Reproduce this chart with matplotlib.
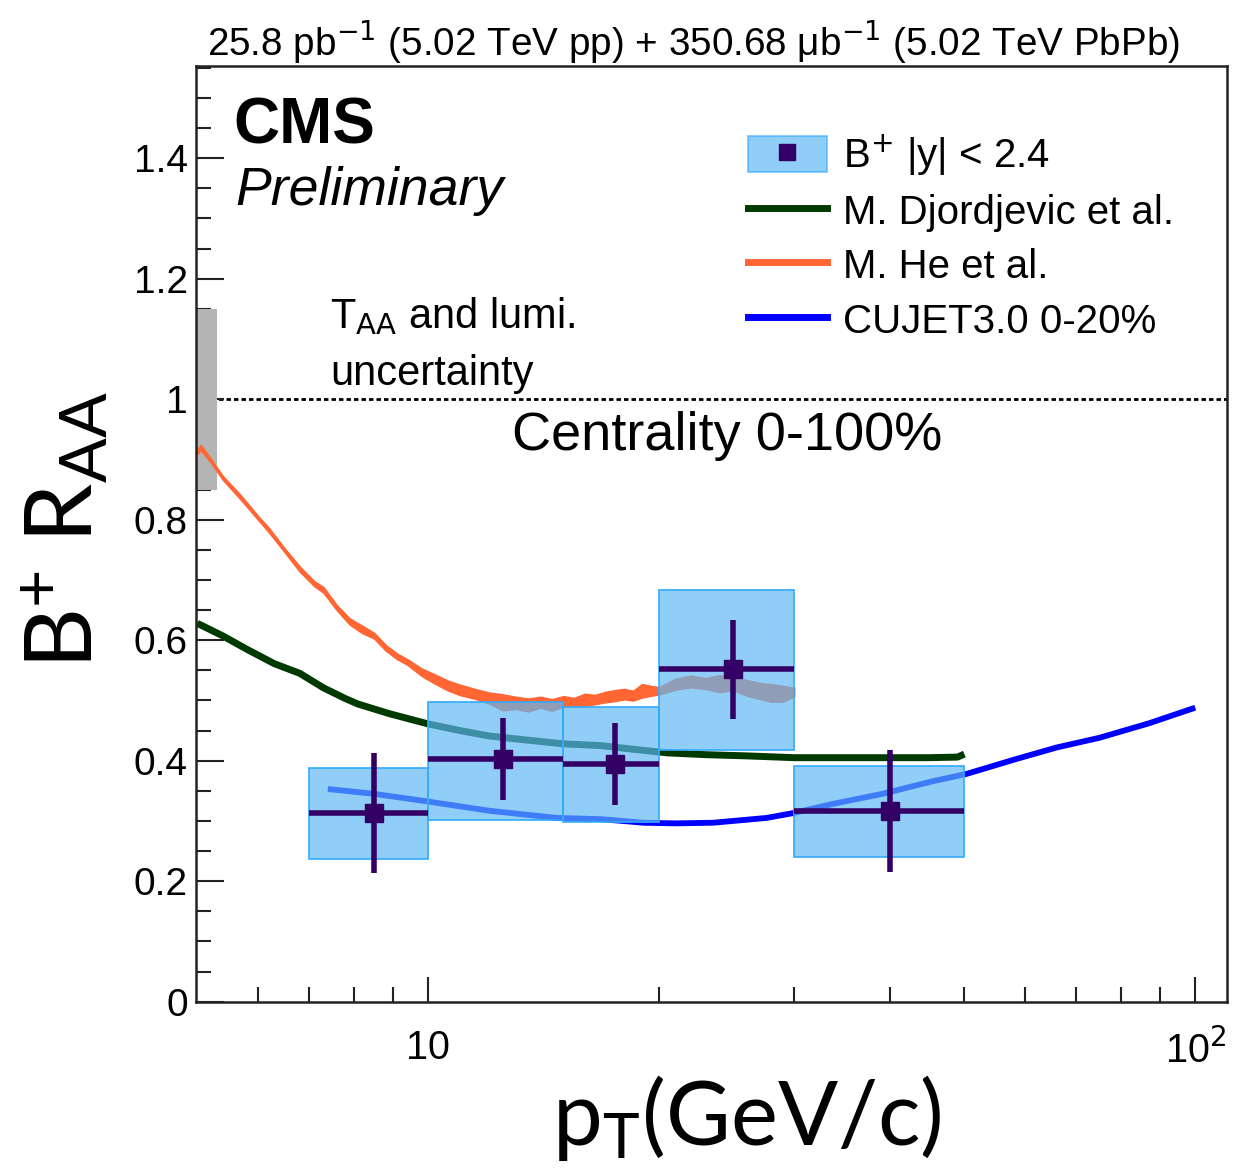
import matplotlib
matplotlib.use("Agg")
import matplotlib.pyplot as plt
from matplotlib.patches import Patch, Rectangle
from matplotlib.lines import Line2D
from matplotlib.legend_handler import HandlerTuple
from matplotlib.ticker import MultipleLocator, FixedLocator, NullFormatter, FuncFormatter

# ---- data ----
pt_lo = [7, 10, 15, 20, 30]
pt_hi = [10, 15, 20, 30, 50]
pt_center = [8.5, 12.5, 17.5, 25, 40]
raa = [0.313, 0.403, 0.395, 0.552, 0.317]
stat_err = [0.100, 0.068, 0.068, 0.082, 0.101]
syst_lo = [0.237, 0.302, 0.298, 0.418, 0.240]
syst_hi = [0.388, 0.498, 0.489, 0.683, 0.391]

# M. Djordjevic et al.
dj_pt = [5.0, 5.4, 5.8, 6.3, 6.8, 7.3, 7.8, 8.1, 8.9, 10.0, 11.0, 12.0, 13.5, 15.0,
         16.8, 18.5, 20.5, 23.0, 26.0, 30.0, 35.0, 40.0, 45.0, 49.0, 50.0]
dj_raa = [0.628, 0.607, 0.585, 0.561, 0.545, 0.521, 0.503, 0.494, 0.478, 0.461, 0.450,
          0.441, 0.434, 0.428, 0.425, 0.419, 0.413, 0.410, 0.408, 0.405, 0.405, 0.405,
          0.405, 0.406, 0.411]

# M. He et al. (noisy band)
he_pt = [5.0, 5.05, 5.2, 5.4, 5.7, 6.0, 6.2, 6.5, 6.8, 7.1, 7.3, 7.6, 7.9, 8.2, 8.5,
         8.8, 9.1, 9.4, 9.8, 10.2, 10.6, 11.0, 11.5, 12.0, 12.5, 13.0, 13.5, 14.0, 14.5,
         15.0, 15.5, 16.0, 16.5, 17.0, 17.5, 18.0, 18.5, 19.0, 19.5, 20.0, 21.0, 22.0,
         23.0, 24.0, 25.0, 26.0, 27.0, 28.0, 29.0, 30.0]
he_hi = [0.915, 0.924, 0.902, 0.872, 0.840, 0.806, 0.786, 0.752, 0.722, 0.698, 0.688,
         0.658, 0.636, 0.624, 0.612, 0.592, 0.578, 0.568, 0.553, 0.543, 0.533, 0.526,
         0.519, 0.513, 0.510, 0.506, 0.503, 0.506, 0.502, 0.507, 0.504, 0.511, 0.509,
         0.514, 0.517, 0.519, 0.516, 0.527, 0.524, 0.522, 0.536, 0.541, 0.537, 0.542,
         0.539, 0.534, 0.529, 0.527, 0.524, 0.521]
he_lo = [0.909, 0.916, 0.896, 0.866, 0.833, 0.800, 0.779, 0.746, 0.714, 0.690, 0.679,
         0.650, 0.626, 0.612, 0.603, 0.583, 0.569, 0.559, 0.541, 0.528, 0.517, 0.509,
         0.503, 0.495, 0.484, 0.486, 0.482, 0.488, 0.483, 0.490, 0.492, 0.491, 0.494,
         0.497, 0.499, 0.502, 0.500, 0.505, 0.508, 0.510, 0.518, 0.522, 0.519, 0.514,
         0.517, 0.508, 0.503, 0.498, 0.498, 0.507]

# CUJET3.0 0-20%
cu_pt = [7.4, 8.5, 9.9, 12.0, 14.7, 16.8, 19.1, 21.0, 23.5, 27.6, 29.9, 33.6, 39.1,
         45.5, 50.3, 58.5, 66.0, 75.0, 87.0, 100.0]
cu_raa = [0.353, 0.345, 0.333, 0.317, 0.305, 0.303, 0.297, 0.296, 0.297, 0.305, 0.313,
          0.328, 0.345, 0.366, 0.378, 0.403, 0.422, 0.438, 0.462, 0.488]

# normalisation uncertainty (T_AA and lumi.)
norm_unc = 0.15
norm_box_pt = [5.0, 5.31]

W, H = 1244, 1168

plt.rcParams["font.family"] = ["Liberation Sans", "DejaVu Sans"]
plt.rcParams["mathtext.fontset"] = "custom"
plt.rcParams["mathtext.rm"] = "Lato"
plt.rcParams["mathtext.it"] = "Lato:italic"
plt.rcParams["mathtext.bf"] = "Lato:bold"

fig = plt.figure(figsize=(W / 100, H / 100), dpi=100)
ax = fig.add_axes([196 / W, 1 - 1001.7 / H, (1227 - 196) / W, (1001.7 - 65.7) / H])

box_face = "#5cb8f5"
box_edge = "#33aaff"
box_alpha = 0.68
marker_col = "#330066"
dj_col = "#003a00"
he_col = "#ff6633"
cu_col = "#0000ff"

# reference line and normalisation box
ax.axhline(1.0, color="black", lw=2.0, linestyle=(0, (1.6, 1.1)), zorder=1)
ax.add_patch(Rectangle((norm_box_pt[0], 1 - norm_unc), norm_box_pt[1] - norm_box_pt[0],
                       2 * norm_unc, facecolor="#b4b4b4", edgecolor="none", zorder=2))

# theory curves (under the boxes)
ax.fill_between(he_pt, he_lo, he_hi, color=he_col, lw=1.2, edgecolor=he_col, zorder=2)
ax.plot(dj_pt, dj_raa, color=dj_col, lw=5, solid_capstyle="butt", zorder=2)
ax.plot(cu_pt, cu_raa, color=cu_col, lw=4.2, solid_capstyle="butt", zorder=2)

# systematic boxes
for lo, hi, ylo, yhi in zip(pt_lo, pt_hi, syst_lo, syst_hi):
    ax.add_patch(Rectangle((lo, ylo), hi - lo, yhi - ylo, facecolor=box_face, alpha=box_alpha,
                           edgecolor="none", zorder=3))
    ax.add_patch(Rectangle((lo, ylo), hi - lo, yhi - ylo, facecolor="none",
                           edgecolor=box_edge, lw=1.2, zorder=3))

# data points
xerr = [[c - lo for c, lo in zip(pt_center, pt_lo)], [hi - c for c, hi in zip(pt_center, pt_hi)]]
ax.errorbar(pt_center, raa, xerr=xerr, yerr=stat_err, fmt="s", ms=13, color=marker_col,
            elinewidth=4, capsize=0, zorder=5)

ax.set_xscale("log")
ax.set_xlim(4.98, 110)
ax.set_ylim(0, 1.5535)

ax.xaxis.set_major_locator(FixedLocator([10, 100]))
ax.xaxis.set_minor_locator(FixedLocator([6, 7, 8, 9, 20, 30, 40, 50, 60, 70, 80, 90]))
ax.xaxis.set_minor_formatter(NullFormatter())
ax.set_xticklabels(["10", "10$^{2}$"])
ax.yaxis.set_major_locator(MultipleLocator(0.2))
ax.yaxis.set_minor_locator(MultipleLocator(0.05))
ax.yaxis.set_major_formatter(FuncFormatter(lambda v, p: f"{v:g}"))

ax.tick_params(axis="both", which="both", direction="in", top=False, right=False,
               width=1.5, color="#222222")
ax.tick_params(axis="x", which="major", length=18, pad=20, labelsize=28.5)
ax.tick_params(axis="x", which="minor", length=11)
ax.tick_params(axis="y", which="major", length=20, pad=6, labelsize=28)
ax.tick_params(axis="y", which="minor", length=11)
for lab in ax.get_xticklabels():
    lab.set_math_fontfamily("dejavusans")
for s in ax.spines.values():
    s.set_linewidth(1.8)
    s.set_color("#222222")

# legend
h_data = (Patch(facecolor=box_face, alpha=box_alpha, edgecolor=box_edge, lw=1.2),
          Line2D([], [], marker="s", ls="none", ms=11, color=marker_col))
handles = [h_data,
           Line2D([], [], color=dj_col, lw=5),
           Line2D([], [], color=he_col, lw=5),
           Line2D([], [], color=cu_col, lw=5)]
labels = ["B$^{+}$ |y| < 2.4", "M. Djordjevic et al.", "M. He et al.", "CUJET3.0 0-20%"]
leg = ax.legend(handles, labels, loc="upper left", bbox_to_anchor=(0.535, 0.929),
                frameon=False, fontsize=29, borderpad=0, borderaxespad=0,
                handlelength=1.97, handleheight=1.0, handletextpad=0.4, labelspacing=0.36,
                handler_map={tuple: HandlerTuple(ndivide=1)})
for t in leg.get_texts():
    t.set_math_fontfamily("dejavusans")

# texts
def fx(px):
    return px / W


def fy(py):
    return 1 - py / H


fig.text(fx(207), fy(55), "25.8 pb$^{-1}$ (5.02 TeV pp) + 350.68 \u03bcb$^{-1}$ (5.02 TeV PbPb)",
         fontsize=27.8, va="baseline", ha="left", math_fontfamily="dejavusans")
fig.text(fx(233), fy(143), "CMS", fontsize=46, fontweight="bold", va="baseline")
fig.text(fx(235), fy(205), "Preliminary", fontsize=38.6, fontstyle="italic", va="baseline")
fig.text(fx(330), fy(328), "T$_{\\mathrm{AA}}$ and lumi.", fontsize=30, va="baseline",
         math_fontfamily="dejavusans")
fig.text(fx(330), fy(385), "uncertainty", fontsize=30, va="baseline")
fig.text(fx(512), fy(450), "Centrality 0-100%", fontsize=39, va="baseline")

fig.text(fx(65), fy(530), "B$^{+}$ R$_{\\mathrm{AA}}$", fontsize=68, rotation=90,
         ha="center", va="center", family="Lato")
fig.text(fx(747), fy(1118), "p$_{\\mathrm{T}}$(GeV/c)", fontsize=64, ha="center",
         va="center", family="Lato")

fig.savefig("out.png", dpi=100)
